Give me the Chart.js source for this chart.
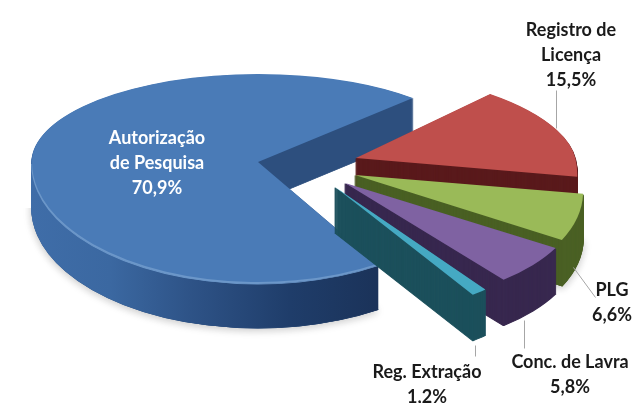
<!DOCTYPE html>
<html lang="en">
  <head>
    <meta charset="UTF-8" />
    <title>pie</title>
    <style>
      html, body { margin: 0; padding: 0; background: #fff; }
      canvas { display: block; }
    </style>
    <script src="https://cdn.jsdelivr.net/npm/chart.js"></script>
  </head>
  <body>
    <canvas id="pieChart" width="633" height="403"></canvas>
    <script>
      // data
      var categories = ["Autorização de Pesquisa", "Registro de Licença", "PLG", "Conc. de Lavra", "Reg. Extração"];
      var values = [70.9, 15.5, 6.6, 5.8, 1.2];
      var labelLines = [["Autorização", "de Pesquisa"], ["Registro de", "Licença"], ["PLG"], ["Conc. de Lavra"], ["Reg. Extração"]];

      // styles
      var topColors = ["#4a7bb7", "#bf4f4c", "#9aba58", "#7f62a2", "#45a9c3"];
      var wallColors = ["#2d4f7e", "#5a1a1c", "#4a6024", "#38284f", "#1c505c"];
      var blueSide = [[32, "#3f6da8"], [110, "#3b68a1"], [190, "#2e5387"], [290, "#1f3d6a"], [375, "#1b335a"]];

      // where each slice's point sits once pulled out of the pie
      var apex = [[258, 162], [356, 158], [355, 175], [345, 183], [335, 187]];
      // perspective fit per slice: x stretch, x shear, y stretch
      var stretchX = [1, 0.97, 1, 1.04, 0.97];
      var shearX = [0, 0.25, 0.26, 0.2, 0.2];
      var stretchY = [1, 1, 1, 1, 1.06];
      var labelPos = [[157, 138, "#ffffff"], [571, 30, "#1a1a1a"], [612, 290, "#1a1a1a"], [570, 362, "#1a1a1a"], [427, 372, "#1a1a1a"]];
      var leaders = [[556, 90, 556, 128], [573, 267, 595, 297], [524, 320, 524, 348], [475, 345, 475, 356]];

      var squashTop = 88 / 226;
      var squashBottom = 120 / 226;
      var depthTop = 40;
      var depthBottom = 46;

      function paintArc(ctx, arc, fill, edge) {
        var saved = arc.options;
        arc.options = {
          backgroundColor: fill, borderColor: fill, borderWidth: edge, borderRadius: 0,
          borderJoinStyle: "round", offset: 0, spacing: 0, circular: true, borderAlign: "center"
        };
        arc.draw(ctx);
        arc.options = saved;
      }

      // one half of the flattened slice, lowered by d pixels
      function paintHalf(ctx, arc, i, d, upper, fill) {
        var splitY = apex[i][1] + d;
        var squash = (upper ? squashTop : squashBottom) * stretchY[i];
        ctx.save();
        ctx.beginPath();
        if (upper) ctx.rect(0, -50, 633, splitY + 50);
        else ctx.rect(0, splitY, 633, 460);
        ctx.clip();
        ctx.translate(apex[i][0], splitY);
        ctx.transform(stretchX[i], 0, shearX[i], 1, 0, 0);
        ctx.scale(1, squash);
        ctx.translate(-arc.x, -arc.y);
        // wall layers get a thin edge so the stacked copies close up
        paintArc(ctx, arc, fill, d > 0 ? 1.5 : 0);
        ctx.restore();
      }

      function blueGradient(ctx, arc, upper) {
        var shift = apex[0][0] - arc.x;
        var g = ctx.createLinearGradient(32 - shift, 0, 375 - shift, 0);
        blueSide.forEach(function (s) {
          if (!upper || s[0] < apex[0][0]) g.addColorStop((s[0] - 32) / 343, s[1]);
        });
        if (upper) {
          var at = (apex[0][0] - 32) / 343;
          g.addColorStop(at, "#2a4b7c");
          g.addColorStop(at + 0.001, wallColors[0]);
          g.addColorStop(1, wallColors[0]);
        }
        return g;
      }

      var slicePlugin = {
        id: "slice3d",
        beforeDatasetsDraw: function (chart) {
          var ctx = chart.ctx;
          var arcs = chart.getDatasetMeta(0).data;
          arcs.forEach(function (arc, i) {
            var upFill = i === 0 ? blueGradient(ctx, arc, true) : wallColors[i];
            var downFill = i === 0 ? blueGradient(ctx, arc, false) : wallColors[i];

            // soft shadow under the block
            if (i === 0 || i === 2) {
              ctx.save();
              ctx.shadowColor = "rgba(0,0,0,0.22)";
              ctx.shadowBlur = 9;
              ctx.shadowOffsetY = 2;
              paintHalf(ctx, arc, i, depthBottom, false, wallColors[i]);
              ctx.restore();
            }

            var d;
            for (d = depthTop; d >= 1; d--) {
              paintHalf(ctx, arc, i, d, true, upFill);
            }
            for (d = depthBottom; d >= 1; d--) {
              paintHalf(ctx, arc, i, d, false, downFill);
            }

            if (i === 0) paintHalf(ctx, arc, i, 2, false, "#6c97c9");
            paintHalf(ctx, arc, i, 0, true, topColors[i]);
            paintHalf(ctx, arc, i, 0, false, topColors[i]);
          });
          return false;
        },
        afterDraw: function (chart) {
          var ctx = chart.ctx;
          ctx.save();
          ctx.strokeStyle = "#a6a6a6";
          ctx.lineWidth = 1;
          leaders.forEach(function (l) {
            ctx.beginPath();
            ctx.moveTo(l[0] + 0.5, l[1] + 0.5);
            ctx.lineTo(l[2] + 0.5, l[3] + 0.5);
            ctx.stroke();
          });
          ctx.font = "bold 18px Lato";
          ctx.textAlign = "center";
          ctx.textBaseline = "middle";
          categories.forEach(function (name, i) {
            var lines = labelLines[i].concat(values[i].toFixed(1).replace(".", ",") + "%");
            ctx.fillStyle = labelPos[i][2];
            lines.forEach(function (line, n) {
              ctx.fillText(line, labelPos[i][0], labelPos[i][1] + n * 25);
            });
          });
          ctx.restore();
        },
      };

      new Chart(document.getElementById("pieChart").getContext("2d"), {
        type: "pie",
        data: {
          labels: categories,
          datasets: [{ data: values, backgroundColor: topColors, borderWidth: 0 }],
        },
        options: {
          responsive: false,
          animation: false,
          rotation: 148,
          radius: 226,
          events: [],
          plugins: {
            legend: { display: false },
            tooltip: { enabled: false },
          },
        },
        plugins: [slicePlugin],
      });
    </script>
  </body>
</html>
